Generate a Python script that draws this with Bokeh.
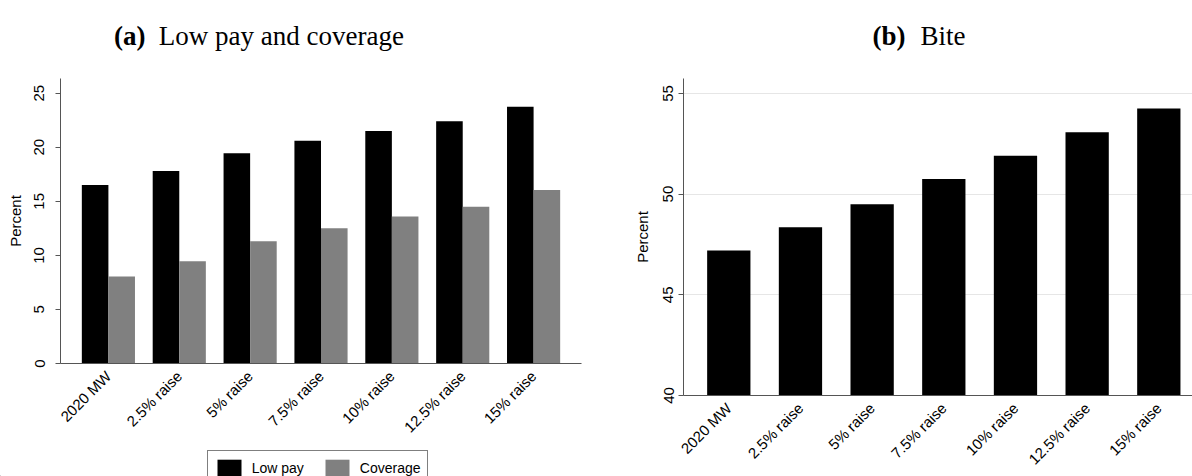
import math
from bokeh.plotting import figure
from bokeh.models import (ColumnDataSource, Range1d, FixedTicker, Label, Legend,
                          LegendItem)
from bokeh.transform import dodge
from bokeh.layouts import row, column
from bokeh.embed import file_html
from bokeh.resources import INLINE

# ---- data ----
scenarios = ["2020 MW", "2.5% raise", "5% raise", "7.5% raise",
             "10% raise", "12.5% raise", "15% raise"]
low_pay = [16.5, 17.8, 19.45, 20.6, 21.5, 22.4, 23.75]
coverage = [8.05, 9.45, 11.3, 12.5, 13.6, 14.5, 16.05]
bite = [47.2, 48.35, 49.5, 50.75, 51.9, 53.07, 54.25]
left_ticks = [0, 5, 10, 15, 20, 25]
right_ticks = [40, 45, 50, 55]
series_names = ["Low pay", "Coverage"]
series_colors = ["black", "#808080"]

idx = list(range(len(scenarios)))
src = ColumnDataSource(dict(idx=idx, name=scenarios, low=low_pay,
                            cov=coverage, bite=bite))
overrides = {i: s for i, s in zip(idx, scenarios)}

SANS = "Liberation Sans"
SERIF = "Liberation Serif"
AXIS_COL = "#555555"


def blank(width, height):
    f = figure(width=width, height=height, output_backend="svg",
               toolbar_location=None, x_axis_type=None, y_axis_type=None,
               x_range=Range1d(0, width), y_range=Range1d(0, height),
               min_border=0, frame_align=False)
    f.outline_line_color = None
    f.grid.grid_line_color = None
    return f


def style(p, yticks):
    p.outline_line_color = None
    p.background_fill_color = "white"
    p.border_fill_color = "white"
    p.xgrid.grid_line_color = None
    p.xaxis.ticker = FixedTicker(ticks=idx)
    p.xaxis.major_label_overrides = overrides
    p.xaxis.major_label_orientation = math.pi / 4
    p.xaxis.major_tick_line_color = None
    p.xaxis.minor_tick_line_color = None
    p.xaxis.axis_line_color = AXIS_COL
    p.xaxis.major_label_text_font = SANS
    p.xaxis.major_label_text_font_size = "15px"
    p.xaxis.major_label_text_color = "black"
    p.xaxis.major_label_standoff = 4
    p.yaxis.ticker = FixedTicker(ticks=yticks)
    p.yaxis.major_label_orientation = "vertical"
    p.yaxis.axis_line_color = AXIS_COL
    p.yaxis.major_tick_line_color = AXIS_COL
    p.yaxis.major_tick_out = 5
    p.yaxis.major_tick_in = 0
    p.yaxis.minor_tick_line_color = None
    p.yaxis.major_label_text_font = SANS
    p.yaxis.major_label_text_font_size = "15px"
    p.yaxis.major_label_text_color = "black"
    p.yaxis.axis_label = "Percent"
    p.yaxis.axis_label_text_font = SANS
    p.yaxis.axis_label_text_font_size = "15px"
    p.yaxis.axis_label_text_font_style = "normal"
    p.yaxis.axis_label_text_color = "black"


def title_labels(f, bold, rest, x_right, x_left, y):
    f.add_layout(Label(x=x_right, y=y, x_units="screen", y_units="screen",
                       text=bold, text_font=SERIF, text_font_style="bold",
                       text_font_size="27px", text_align="right",
                       text_baseline="alphabetic", text_color="black"))
    f.add_layout(Label(x=x_left, y=y, x_units="screen", y_units="screen",
                       text=rest, text_font=SERIF, text_font_style="normal",
                       text_font_size="27px", text_align="left",
                       text_baseline="alphabetic", text_color="black"))


# ---- left panel ----
ta = blank(600, 70)
title_labels(ta, "(a)", "Low pay and coverage", 145, 158.3, 35)

p1 = figure(width=600, height=375, output_backend="svg", toolbar_location=None,
            x_range=Range1d(-0.676, 6.676), y_range=Range1d(0, 26.36),
            min_border_left=60, min_border_right=19, min_border_top=8,
            min_border_bottom=82, frame_align=False)
style(p1, left_ticks)
p1.ygrid.grid_line_color = None
p1.yaxis.major_label_standoff = 11
p1.yaxis.axis_label_standoff = 8
p1.vbar(x=dodge("idx", -0.1875, range=p1.x_range), top="low",
        width=0.375, source=src, fill_color=series_colors[0], line_color=None)
p1.vbar(x=dodge("idx", 0.1875, range=p1.x_range), top="cov",
        width=0.375, source=src, fill_color=series_colors[1], line_color=None)

# legend strip below the left panel (proxy glyphs kept off-screen)
lg = blank(600, 31)
items = []
for name, col in zip(series_names, series_colors):
    r = lg.vbar(x=[-1000], top=[1], width=1, fill_color=col, line_color=None)
    items.append(LegendItem(label=name, renderers=[r]))
legend = Legend(items=items,
                orientation="horizontal", location=(206.7, -10.3),
                glyph_width=30, glyph_height=22, label_height=22,
                label_standoff=8, spacing=18, padding=6, margin=0,
                border_line_color="black", border_line_width=1,
                background_fill_color="white", background_fill_alpha=1,
                label_text_font=SANS, label_text_font_size="14px",
                label_text_color="black")
lg.add_layout(legend)

# ---- right panel ----
tb = blank(592, 70)
title_labels(tb, "(b)", "Bite", 305, 320, 35)

p2 = figure(width=592, height=406, output_backend="svg", toolbar_location=None,
            x_range=Range1d(-0.632, 6.470), y_range=Range1d(40, 55.74),
            min_border_left=83, min_border_right=0, min_border_top=8,
            min_border_bottom=74, frame_align=False)
style(p2, right_ticks)
p2.ygrid.grid_line_color = "#e6e6e6"
p2.ygrid.grid_line_width = 1
p2.yaxis.major_label_standoff = 5
p2.yaxis.axis_label_standoff = 10
p2.vbar(x="idx", top="bite", bottom=40, width=0.604, source=src,
        fill_color="black", line_color=None)

layout = row(column(ta, p1, lg, spacing=0), column(tb, p2, spacing=0),
             spacing=0)
open("out.html", "w").write(file_html(layout, INLINE))
